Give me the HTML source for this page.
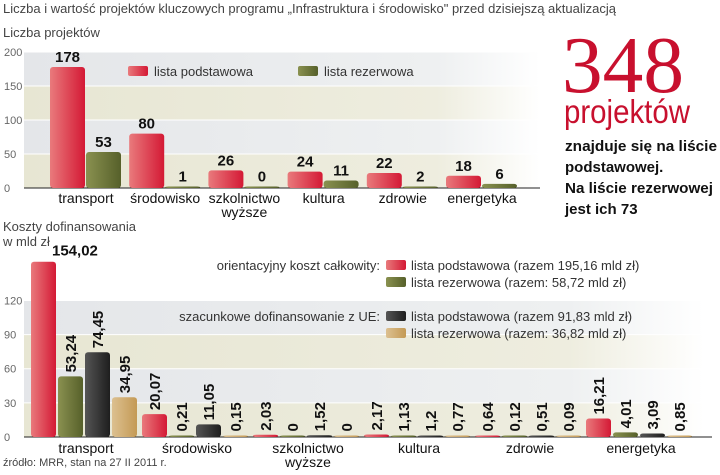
<!DOCTYPE html>
<html><head><meta charset="utf-8"><style>
body{margin:0;background:#fff;width:720px;height:470px;overflow:hidden;font-family:"Liberation Sans","DejaVu Sans",sans-serif}
svg text{font-family:"Liberation Sans","DejaVu Sans",sans-serif}
</style></head><body>
<svg width="720" height="470" viewBox="0 0 720 470">
<defs>
<linearGradient id="gR" x1="0" y1="0" x2="1" y2="0"><stop offset="0" stop-color="#e97a7c"/><stop offset="1" stop-color="#d41935"/></linearGradient>
<linearGradient id="gG" x1="0" y1="0" x2="1" y2="0"><stop offset="0" stop-color="#8a9150"/><stop offset="1" stop-color="#56602a"/></linearGradient>
<linearGradient id="gK" x1="0" y1="0" x2="1" y2="0"><stop offset="0" stop-color="#555"/><stop offset="1" stop-color="#1e1e1e"/></linearGradient>
<linearGradient id="gT" x1="0" y1="0" x2="1" y2="0"><stop offset="0" stop-color="#dcc090"/><stop offset="1" stop-color="#c49a55"/></linearGradient>
<linearGradient id="fadeL" x1="0" y1="0" x2="1" y2="0"><stop offset="0" stop-color="#e7e6d3"/><stop offset="0.8" stop-color="#eeeddf"/><stop offset="1" stop-color="#fff"/></linearGradient>
<linearGradient id="fadeB" x1="0" y1="0" x2="1" y2="0"><stop offset="0" stop-color="#e4e6e9"/><stop offset="0.8" stop-color="#eef0f1"/><stop offset="1" stop-color="#fff"/></linearGradient>
</defs>
<text x="3" y="13" font-size="13" fill="#444">Liczba i wartość projektów kluczowych programu „Infrastruktura i środowisko" przed dzisiejszą aktualizacją</text>
<text x="3" y="37" font-size="13" fill="#444">Liczba projektów</text>
<g id="top"></g>
<text x="3" y="231" font-size="13" fill="#444">Koszty dofinansowania</text>
<text x="3" y="246" font-size="13" fill="#444">w mld zł</text>
<g id="bot"></g>
<text x="3" y="466" font-size="11" fill="#444">źródło: MRR, stan na 27 II 2011 r.</text>
<g>
<text x="562" y="92" font-size="80" fill="#c8102e" style="font-family:'Liberation Serif',serif" textLength="122" lengthAdjust="spacingAndGlyphs">348</text>
<text x="564" y="123" font-size="33" fill="#c8102e" textLength="126" lengthAdjust="spacingAndGlyphs">projektów</text>
<text x="565" y="151" font-size="15" font-weight="bold" fill="#111" textLength="152" lengthAdjust="spacingAndGlyphs">znajduje się na liście</text>
<text x="565" y="172" font-size="15" font-weight="bold" fill="#111">podstawowej.</text>
<text x="565" y="193" font-size="15" font-weight="bold" fill="#111" textLength="148" lengthAdjust="spacingAndGlyphs">Na liście rezerwowej</text>
<text x="565" y="214" font-size="15" font-weight="bold" fill="#111">jest ich 73</text>
</g>
</svg>
<script>
const ns='http://www.w3.org/2000/svg';
const topCats=['transport','środowisko','szkolnictwo|wyższe','kultura','zdrowie','energetyka'];
const topBasic=[178,80,26,24,22,18];
const topReserve=[53,1,0,11,2,6];
const topTicks=[0,50,100,150,200];
const botBasicTotal=[154.02,20.07,2.03,2.17,0.64,16.21];
const botReserveTotal=[53.24,0.21,0,1.13,0.12,4.01];
const botBasicEU=[74.45,11.05,1.52,1.2,0.51,3.09];
const botReserveEU=[34.95,0.15,0,0.77,0.09,0.85];
const botTicks=[0,30,60,90,120];
function el(p,t,a,txt){const e=document.createElementNS(ns,t);for(const k in a)e.setAttribute(k,a[k]);if(txt!==undefined)e.textContent=txt;p.appendChild(e);return e;}
function fmt(v){return String(v).replace('.',',');}
// TOP
const T=document.getElementById('top');
const ty=v=>188-v*0.68;
const tx=i=>50+i*79.2;
const bands=[[150,200,'url(#fadeB)'],[100,150,'url(#fadeL)'],[50,100,'url(#fadeB)'],[0,50,'url(#fadeL)']];
bands.forEach(b=>{const r=el(T,'rect',{x:24,y:ty(b[1]),width:516,height:ty(b[0])-ty(b[1]),fill:b[2]});


el(T,'line',{x1:24,x2:540,y1:ty(b[1]),y2:ty(b[1]),stroke:'#fff','stroke-width':1});});
topTicks.forEach(t=>{const e=el(T,'text',{x:4,y:ty(t)+4,'font-size':11,fill:'#666'},t);

});
el(T,'line',{x1:24,x2:540,y1:188,y2:188,stroke:'#222','stroke-width':1});
topCats.forEach((c,i)=>{
 const x=tx(i);
 [[topBasic[i],'url(#gR)',0,'top-bar-basic'],[topReserve[i],'url(#gG)',36,'top-bar-reserve']].forEach(s=>{
  const h=Math.max(188-ty(s[0]),1.5);
  const r=el(T,'rect',{x:x+s[2],y:188-h,width:35,height:h,rx:3,fill:s[1]});
  
  
  const l=el(T,'text',{x:x+s[2]+17.5,y:188-h-5,'font-size':15,'font-weight':'bold','text-anchor':'middle',fill:'#111'},s[0]);
  
  
 });
 c.split('|').forEach((p,k)=>{const l=el(T,'text',{x:x+36,y:203+k*14,'font-size':14,'text-anchor':'middle',fill:'#111'},p);
 
 });
});
[[128,'url(#gR)','lista podstawowa'],[298,'url(#gG)','lista rezerwowa']].forEach(g=>{
 const r=el(T,'rect',{x:g[0],y:66,width:20,height:10,rx:2,fill:g[1]});
 
 
 const t=el(T,'text',{x:g[0]+26,y:76,'font-size':13,fill:'#333'},g[2]);
 
 
});
// BOTTOM
const B=document.getElementById('bot');
const by=v=>437-v*1.138;
const bx=i=>31+i*111;
const bb=[[90,120,'url(#fadeB)'],[60,90,'url(#fadeL)'],[30,60,'url(#fadeB)'],[0,30,'url(#fadeL)']];
bb.forEach(b=>{const r=el(B,'rect',{x:24,y:by(b[1]),width:680,height:by(b[0])-by(b[1]),fill:b[2]});


el(B,'line',{x1:24,x2:704,y1:by(b[1]),y2:by(b[1]),stroke:'#fff','stroke-width':1});});
botTicks.forEach(t=>{const e=el(B,'text',{x:4,y:by(t)+4,'font-size':11,fill:'#666'},t);

});
el(B,'line',{x1:24,x2:712,y1:437,y2:437,stroke:'#222','stroke-width':1});
topCats.forEach((c,i)=>{
 const x=bx(i);
 const series=[[botBasicTotal[i],'url(#gR)','bottom-bar-basic-total'],[botReserveTotal[i],'url(#gG)','bottom-bar-reserve-total'],[botBasicEU[i],'url(#gK)','bottom-bar-basic-eu'],[botReserveEU[i],'url(#gT)','bottom-bar-reserve-eu']];
 series.forEach((s,j)=>{
  const bxx=x+j*27, h=Math.max(437-by(s[0]),1.5);
  const r=el(B,'rect',{x:bxx,y:437-h,width:25,height:h,rx:3,fill:s[1]});
  
  
  let l;
  if(s[0]>120){l=el(B,'text',{x:bxx+21,y:437-h-6,'font-size':15,'font-weight':'bold',fill:'#111'},fmt(s[0]));}
  else{const cx=bxx+18, cy=437-h-4;
  l=el(B,'text',{x:cx,y:cy,'font-size':15,'font-weight':'bold',fill:'#111',transform:'rotate(-90 '+cx+' '+cy+')'},fmt(s[0]));}
  
  
 });
 c.split('|').forEach((p,k)=>{const l=el(B,'text',{x:x+55,y:453+k*14,'font-size':14,'text-anchor':'middle',fill:'#111'},p);
 
 });
});
[[270,'orientacyjny koszt całkowity:'],[321,'szacunkowe dofinansowanie z UE:']].forEach(h=>{
 const t=el(B,'text',{x:380,y:h[0],'font-size':13,'text-anchor':'end',fill:'#333'},h[1]);
 
 
});
[[270,'url(#gR)','lista podstawowa (razem 195,16 mld zł)'],[287,'url(#gG)','lista rezerwowa (razem: 58,72 mld zł)'],[321,'url(#gK)','lista podstawowa (razem 91,83 mld zł)'],[338,'url(#gT)','lista rezerwowa (razem: 36,82 mld zł)']].forEach(g=>{
 const r=el(B,'rect',{x:386,y:g[0]-10,width:20,height:10,rx:2,fill:g[1]});
 
 
 const t=el(B,'text',{x:411,y:g[0],'font-size':13,fill:'#333'},g[2]);
 
 
});
</script>
</body></html>
